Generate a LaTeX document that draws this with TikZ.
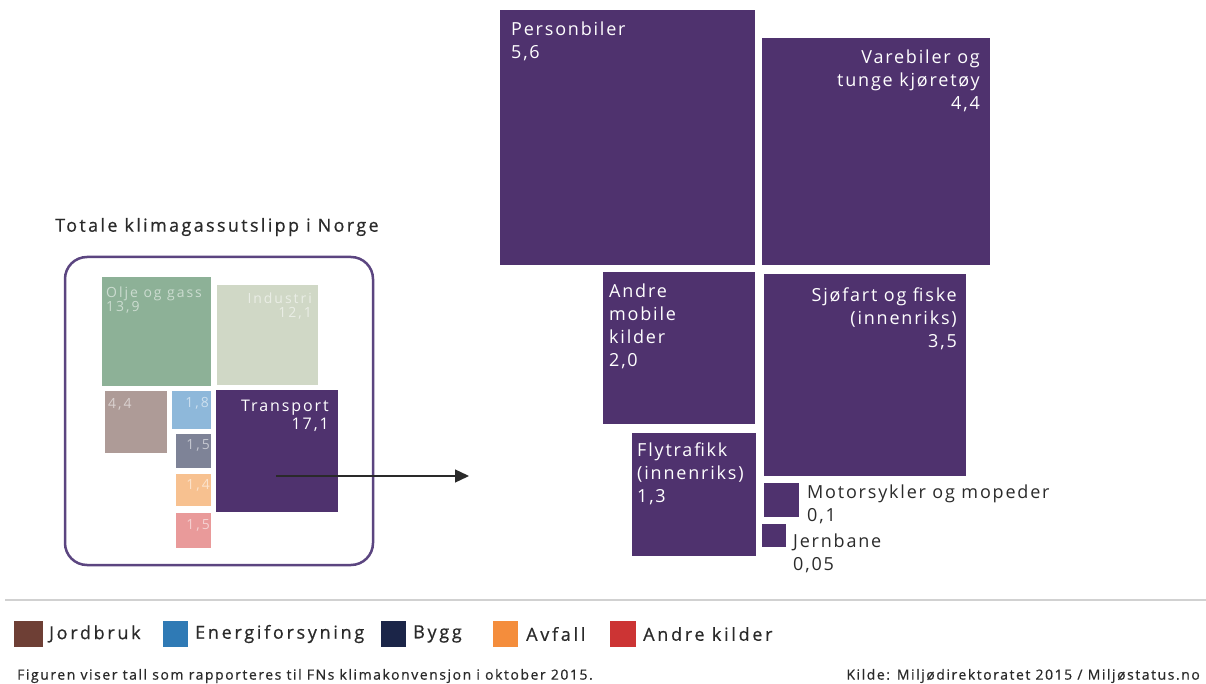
\documentclass[tikz,border=0pt]{standalone}
\usepackage{fontspec}
\setmainfont{Open Sans}
\newfontfamily\lblfont[LetterSpace=10]{Open Sans}
\newfontfamily\ttlfont[LetterSpace=13,FakeBold=0.6]{Open Sans}
\newfontfamily\trfont[LetterSpace=12]{Open Sans}
\newfontfamily\fadefont[LetterSpace=14]{Open Sans}
\newfontfamily\legfont[LetterSpace=15,FakeBold=0.6]{Open Sans}
\newfontfamily\footfont[LetterSpace=11,FakeBold=0.6]{Open Sans}
\usetikzlibrary{arrows.meta,positioning}

\definecolor{trpurple}{HTML}{4F326E}
\definecolor{framepurple}{HTML}{5B4580}
\definecolor{oljecol}{HTML}{8DB197}
\definecolor{induscol}{HTML}{D0D8C6}
\definecolor{jordfade}{HTML}{AE9B97}
\definecolor{energifade}{HTML}{8EB8DA}
\definecolor{byggfade}{HTML}{7E8397}
\definecolor{avfallfade}{HTML}{F7C190}
\definecolor{andrefade}{HTML}{E99A9A}
\definecolor{jordcol}{HTML}{6E3F35}
\definecolor{energicol}{HTML}{2F7AB5}
\definecolor{byggcol}{HTML}{1B2548}
\definecolor{avfallcol}{HTML}{F48D3C}
\definecolor{andrecol}{HTML}{CC3434}
\definecolor{txtgrey}{HTML}{2A2A2A}

\begin{document}
\begin{tikzpicture}[x=1pt,y=-1pt,
  box/.style={inner sep=0pt,outer sep=0pt,anchor=north west},
  trp/.style={box,fill=trpurple},
  lbl/.style={inner sep=0pt,text=white,font=\lblfont\fontsize{18}{23}\selectfont},
  tlbl/.style={inner sep=0pt,text=white,font=\trfont\fontsize{16}{17.5}\selectfont},
  flbl/.style={inner sep=0pt,text=white,text opacity=0.55,font=\fadefont\fontsize{14}{14}\selectfont},
  blbl/.style={inner sep=0pt,text=txtgrey,font=\lblfont\fontsize{18}{23}\selectfont},
  legsq/.style={inner sep=0pt,outer sep=0pt,anchor=north west,minimum height=26},
  legtxt/.style={inner sep=0pt,anchor=west,text=txtgrey,font=\legfont\fontsize{18}{20}\selectfont},
  foot/.style={inner sep=0pt,text=txtgrey,font=\footfont\fontsize{14}{16}\selectfont}]
\useasboundingbox[fill=white] (0,0) rectangle (1206,684);

% Totale utslipp
\node[inner sep=0pt,anchor=west,text=txtgrey,font=\ttlfont\fontsize{18}{20}\selectfont] (title) at (55,227) {Totale klimagassutslipp i Norge};
\draw[framepurple,line width=2.5pt,rounded corners=22pt] (65,257) rectangle (373,565);

\node[box,fill=oljecol,minimum width=109,minimum height=109] (olje) at (102,277) {};
\node[box,fill=induscol,minimum width=101,minimum height=100] (indus) at (217,285) {};
\node[box,fill=jordfade,minimum width=62,minimum height=62] (jord) at (105,391) {};
\node[box,fill=energifade,minimum width=39,minimum height=38] (energi) at (172,391) {};
\node[box,fill=byggfade,minimum width=35,minimum height=34] (bygg) at (176,434) {};
\node[box,fill=avfallfade,minimum width=35,minimum height=32] (avfall) at (176,474) {};
\node[box,fill=andrefade,minimum width=35,minimum height=35] (andre) at (176,513) {};
\node[trp,minimum width=122,minimum height=122] (transp) at (216,390) {};

\node[flbl,anchor=north west,align=left] (oljeT) at ([shift={(4,10)}]olje.north west) {Olje og gass\\13,9};
\node[flbl,anchor=north east,align=right] (indusT) at ([shift={(-6,8)}]indus.north east) {Industri\\12,1};
\node[flbl,anchor=north west] (jordT) at ([shift={(3,7)}]jord.north west) {4,4};
\node[flbl,anchor=north east] (energiT) at ([shift={(-2,6)}]energi.north east) {1,8};
\node[flbl,anchor=north east] (byggT) at ([shift={(-1,5)}]bygg.north east) {1,5};
\node[flbl,anchor=north east] (avfallT) at ([shift={(-1,5)}]avfall.north east) {1,4};
\node[flbl,anchor=north east] (andreT) at ([shift={(-1,6)}]andre.north east) {1,5};
\node[tlbl,anchor=north east,align=right] (transpT) at ([shift={(-9,10)}]transp.north east) {Transport\\17,1};

\coordinate (arrS) at (276,476);
\coordinate (arrE) at (469,476);
\draw[-{Triangle[length=14pt,width=13pt]},line width=1.3pt,txtgrey] (arrS) -- (arrE);

% Transport i detalj
\node[trp,minimum width=255,minimum height=255] (pers) at (500,10) {};
\node[trp,minimum width=228,minimum height=227] (vare) at (762,38) {};
\node[trp,minimum width=152,minimum height=152] (mobil) at (603,272) {};
\node[trp,minimum width=202,minimum height=202] (sjo) at (764,274) {};
\node[trp,minimum width=124,minimum height=123] (fly) at (632,433) {};
\node[trp,minimum width=35,minimum height=34] (motor) at (764,483) {};
\node[trp,minimum width=24,minimum height=23] (jern) at (762,524) {};

\node[lbl,anchor=north west,align=left] (persT) at ([shift={(11,12)}]pers.north west) {Personbiler\\5,6};
\node[lbl,anchor=north east,align=right] (vareT) at ([shift={(-10,12)}]vare.north east) {Varebiler og\\tunge kjøretøy\\4,4};
\node[lbl,anchor=north west,align=left] (mobilT) at ([shift={(6,12)}]mobil.north west) {Andre\\mobile\\kilder\\2,0};
\node[lbl,anchor=north east,align=right] (sjoT) at ([shift={(-9,14)}]sjo.north east) {Sjøfart og fiske\\(innenriks)\\3,5};
\node[lbl,anchor=north west,align=left] (flyT) at ([shift={(5,10)}]fly.north west) {Flytrafikk\\(innenriks)\\1,3};
\node[blbl,anchor=north west,align=left] (motorT) at ([shift={(8,2)}]motor.north east) {Motorsykler og mopeder\\0,1};
\node[blbl,anchor=north west,align=left] (jernT) at ([shift={(7,10)}]jern.north east) {Jernbane\\0,05};

% bunntekst
\draw[black!18,line width=1.5pt] (5,600) -- (1206,600);
\node[legsq,fill=jordcol,minimum width=29] (sqJord) at (14,621) {};
\node[legtxt] (legJord) at ([xshift=6]sqJord.east) {Jordbruk};
\node[legsq,fill=energicol,minimum width=25] (sqEnergi) at (163,621) {};
\node[legtxt] (legEnergi) at ([xshift=7]sqEnergi.east) {Energiforsyning};
\node[legsq,fill=byggcol,minimum width=25] (sqBygg) at (381,621) {};
\node[legtxt] (legBygg) at ([xshift=7]sqBygg.east) {Bygg};
\node[legsq,fill=avfallcol,minimum width=25] (sqAvfall) at (493,621) {};
\node[legtxt] (legAvfall) at ([xshift=8]sqAvfall.east) {Avfall};
\node[legsq,fill=andrecol,minimum width=26] (sqAndre) at (610,621) {};
\node[legtxt] (legAndre) at ([xshift=7]sqAndre.east) {Andre kilder};

\node[foot,anchor=west] (noteL) at (17,676) {Figuren viser tall som rapporteres til FNs klimakonvensjon i oktober 2015.};
\node[foot,anchor=east] (noteR) at (1200,676) {Kilde: Miljødirektoratet 2015 / Miljøstatus.no};
\end{tikzpicture}
\end{document}
